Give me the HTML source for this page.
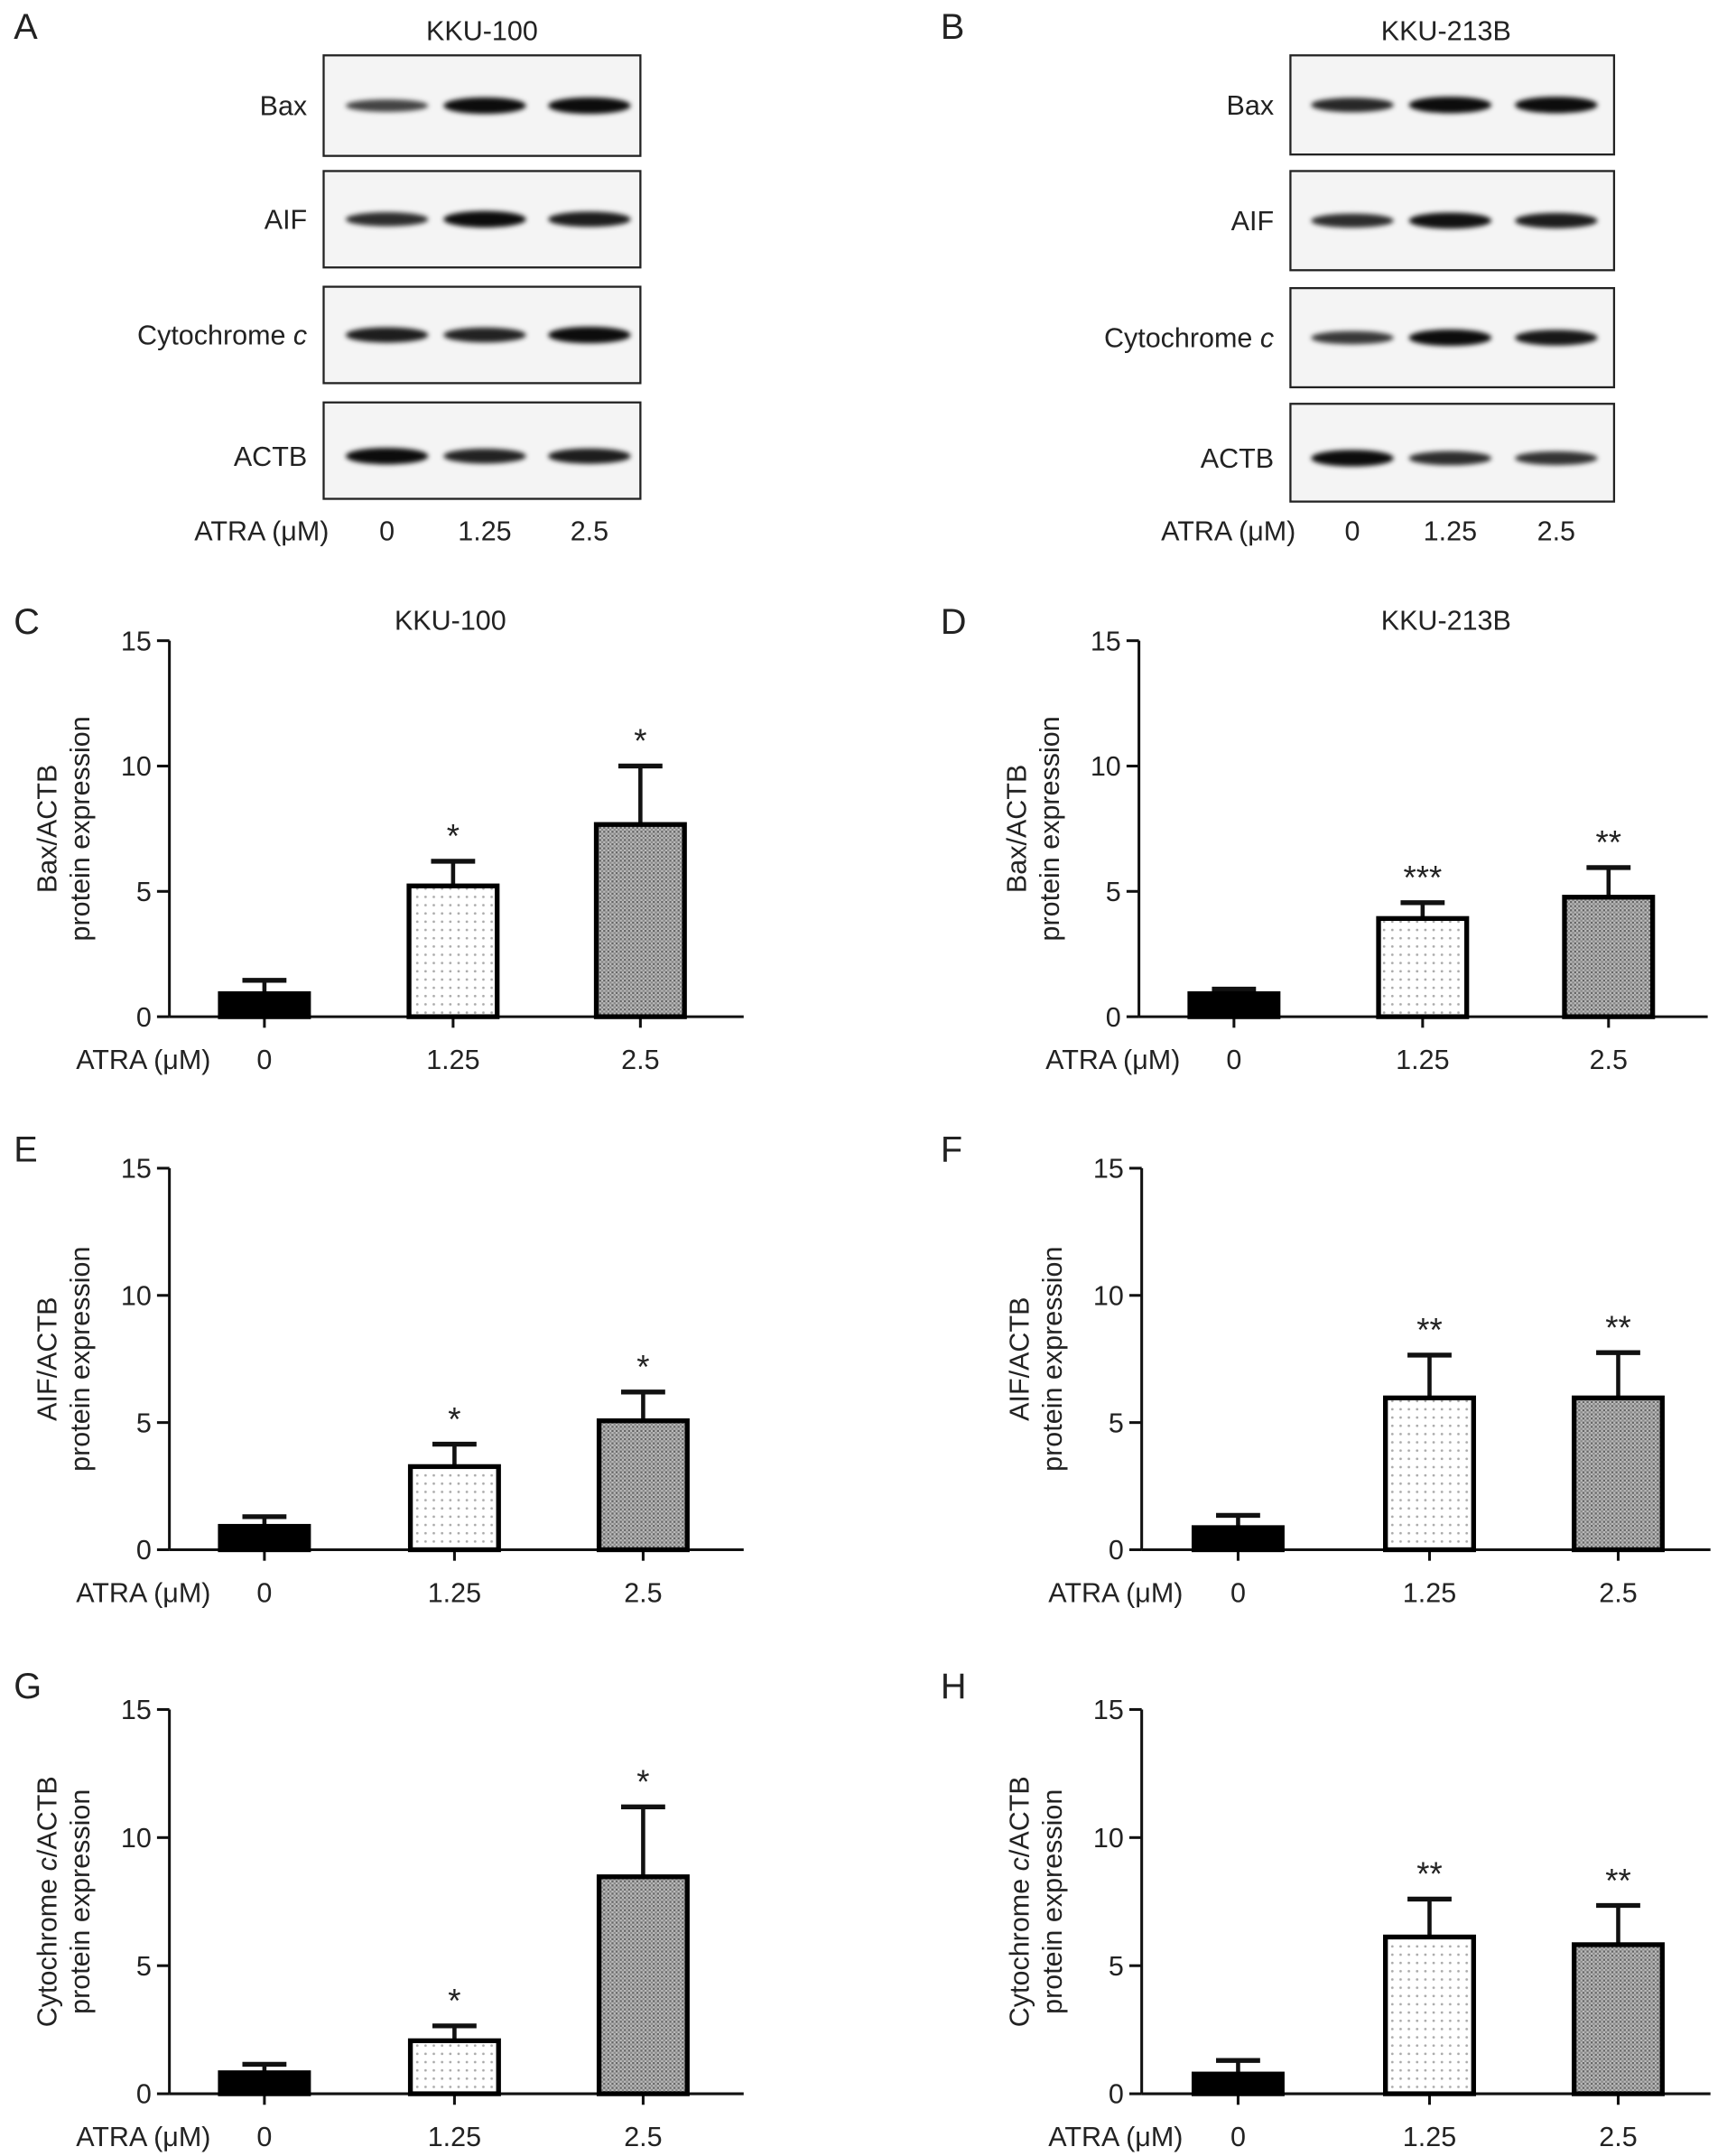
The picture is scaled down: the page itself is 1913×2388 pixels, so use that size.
<!DOCTYPE html>
<html><head><meta charset="utf-8"><style>
html,body{margin:0;padding:0;background:#fff;}
svg{display:block;font-family:"Liberation Sans",sans-serif;}
</style></head><body>
<svg id="fig" width="1913" height="2388" viewBox="0 0 1254 1565" xmlns="http://www.w3.org/2000/svg">
<defs>
<pattern id="dots" width="6" height="6" patternUnits="userSpaceOnUse"><rect width="6" height="6" fill="#fff"/><circle cx="3" cy="3" r="0.9" fill="#aaa"/></pattern>
<pattern id="hatch" width="3" height="3" patternUnits="userSpaceOnUse"><rect width="3" height="3" fill="#bbb"/><rect width="1.5" height="1.5" fill="#666"/><rect x="1.5" y="1.5" width="1.5" height="1.5" fill="#888"/></pattern>
<filter id="blur" x="-20%" y="-100%" width="140%" height="300%"><feGaussianBlur stdDeviation="1.8"/></filter>
</defs>
</svg>
<script>
const catLabels = ["0","1.25","2.5"];
const tickVals = [0,5,10,15];
const cMeans=[1.0,5.3,7.75], cErr=[1.45,6.2,10.0], cStars=["","*","*"];
const dMeans=[1.0,4.0,4.85], dErr=[1.1,4.55,5.95], dStars=["","***","**"];
const eMeans=[1.0,3.35,5.15], eErr=[1.3,4.15,6.2], eStars=["","*","*"];
const fMeans=[0.95,6.05,6.05], fErr=[1.35,7.65,7.75], fStars=["","**","**"];
const gMeans=[0.9,2.15,8.55], gErr=[1.15,2.65,11.2], gStars=["","*","*"];
const hMeans=[0.85,6.2,5.9], hErr=[1.3,7.6,7.35], hStars=["","**","**"];
const blotA=[[0.5,1,1],[0.7,1,0.85],[0.85,0.8,1],[1,0.8,0.85]];
const blotB=[[0.75,1,1],[0.7,0.95,0.85],[0.6,1,0.9],[1,0.7,0.65]];

const svg=document.getElementById('fig');
const NS="http://www.w3.org/2000/svg";
function el(tag,attrs,parent,text){const e=document.createElementNS(NS,tag);for(const k in attrs)e.setAttribute(k,attrs[k]);if(text!==undefined)e.textContent=text;(parent||svg).appendChild(e);return e;}
function txt(x,y,s,size,anchor,parent,name){const t=el('text',{x:x,y:y,'font-size':size,'text-anchor':anchor||'middle',fill:'#222'},parent,s);

return t;}

[["A",10,28],["B",683,28],["C",10,460],["D",683,460],["E",10,843],["F",683,843],["G",10,1233],["H",683,1233]].forEach(p=>{txt(p[1],p[2],p[0],26,'start',null,'panel-letter-'+p[0].toLowerCase());});

function blot(x0,rows,lanes,rowsY,labels,title,titleX,intens,id){
  const g=el('g',{});
  
  
  txt(titleX,29,title,20,'middle',g,'blot-title');
  rowsY.forEach((r,i)=>{
    el('rect',{x:x0,y:r[0],width:rows,height:r[1]-r[0],fill:'#f4f4f4',stroke:'#222','stroke-width':1.5},g);
    const cy=(r[0]+r[1])/2+(i===3?4:0);
    lanes.forEach((lx,j)=>{
      const k=intens[i][j];
      el('ellipse',{cx:lx,cy:cy,rx:30,ry:3+3*k,fill:'#000','fill-opacity':0.5+0.45*k,filter:'url(#blur)'},g);
    });
    const t=txt(x0-12,cy+7,'',20,'end',g,'protein-label');
    if(labels[i]==='Cytochrome c'){t.textContent='Cytochrome ';el('tspan',{'font-style':'italic'},t,'c');}
    else t.textContent=labels[i];
  });
  txt(x0-45,392,'ATRA (μM)',20,'middle',g,'atra-label');
  lanes.forEach((lx,j)=>txt(lx,392,catLabels[j],20,'middle',g,'lane-label'));
}
blot(235,230,[281,352,428],[[40,113],[124,194],[208,278],[292,362]],["Bax","AIF","Cytochrome c","ACTB"],"KKU-100",350,blotA,'a');
blot(937,235,[982,1053,1130],[[40,112],[124,196],[209,281],[293,364]],["Bax","AIF","Cytochrome c","ACTB"],"KKU-213B",1050,blotB,'b');

function chart(id,ax,y0,y15,xEnd,centers,means,errs,stars,ytitle,title,titleX){
  const g=el('g',{});
  
  
  const Y=v=>y0-(y0-y15)*v/15;
  const ya=el('line',{x1:ax,y1:Y(15),x2:ax,y2:y0,stroke:'#111','stroke-width':2},g);
  
  
  tickVals.forEach(v=>{
    el('line',{x1:ax-9,y1:Y(v),x2:ax,y2:Y(v),stroke:'#111','stroke-width':2},g);
    txt(ax-13,Y(v)+7,String(v),20,'end',g,'y-tick-label');
  });
  const xa=el('line',{x1:ax,y1:y0,x2:xEnd,y2:y0,stroke:'#111','stroke-width':2},g);
  
  
  const fills=['#000','url(#dots)','url(#hatch)'];
  centers.forEach((cx,i)=>{
    el('line',{x1:cx,y1:y0,x2:cx,y2:y0+8,stroke:'#111','stroke-width':2},g);
    txt(cx,y0+38,catLabels[i],20,'middle',g,'x-tick-label');
    const ey=Y(errs[i]), by=Y(means[i]);
    el('line',{x1:cx,y1:ey,x2:cx,y2:by,stroke:'#111','stroke-width':3},g);
    el('line',{x1:cx-16,y1:ey,x2:cx+16,y2:ey,stroke:'#111','stroke-width':3.5},g);
    const b=el('rect',{x:cx-32,y:by+1.5,width:64,height:y0-by-1.5,fill:fills[i],stroke:'#000','stroke-width':3.5},g);
    
    
    if(stars[i])txt(cx,ey-10,stars[i],24,'middle',g,'significance-marker');
  });
  txt(ax+30,y0+38,'ATRA (μM)',20,'end',g,'x-axis-label');
  if(title)txt(titleX,Y(15)-8,title,20,'middle',g,'chart-title');
  const cy=(Y(15)+y0)/2;
  const t=el('text',{transform:`translate(${ax-82},${cy}) rotate(-90)`,'font-size':20,'text-anchor':'middle',fill:'#222'},g);
  
  
  const t1=el('tspan',{x:0,y:0},t);
  if(ytitle==='Cytochrome c/ACTB'){t1.textContent='Cytochrome ';el('tspan',{'font-style':'italic'},t1,'c');t1.appendChild(document.createTextNode('/ACTB'));}
  else t1.textContent=ytitle;
  el('tspan',{x:0,y:24},t,'protein expression');
}
chart('c',123,738,465,540,[192,329,465],cMeans,cErr,cStars,'Bax/ACTB','KKU-100',327);
chart('d',827,738,465,1240,[896,1033,1168],dMeans,dErr,dStars,'Bax/ACTB','KKU-213B',1050);
chart('e',123,1125,848,540,[192,330,467],eMeans,eErr,eStars,'AIF/ACTB');
chart('f',829,1125,848,1242,[899,1038,1175],fMeans,fErr,fStars,'AIF/ACTB');
chart('g',123,1520,1241,540,[192,330,467],gMeans,gErr,gStars,'Cytochrome c/ACTB');
chart('h',829,1520,1241,1242,[899,1038,1175],hMeans,hErr,hStars,'Cytochrome c/ACTB');
</script>
</body></html>
